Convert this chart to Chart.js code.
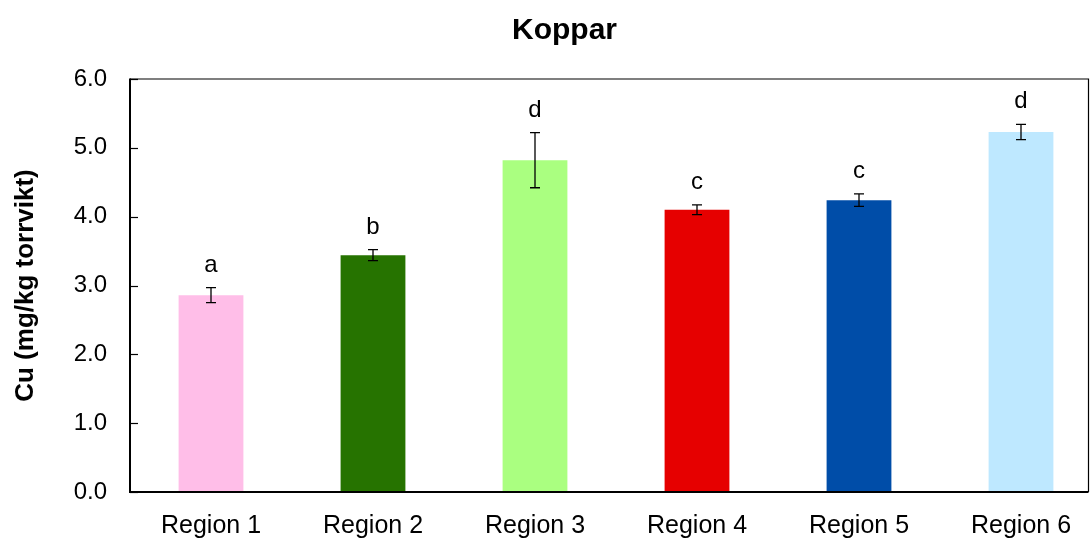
<!DOCTYPE html>
<html>
<head>
<meta charset="utf-8">
<script src="https://cdn.jsdelivr.net/npm/chart.js@4/dist/chart.umd.min.js"></script>
<style>
  html, body { margin: 0; padding: 0; background: #fff; overflow: hidden; }
  #wrap { width: 1091px; height: 538px; overflow: hidden; }
  canvas { display: block; }
</style>
</head>
<body>
<div id="wrap"><canvas id="c" width="1102" height="538"></canvas></div>
<script>
const TITLE = 'Koppar';
const Y_TITLE = 'Cu (mg/kg torrvikt)';
const categories = ['Region 1', 'Region 2', 'Region 3', 'Region 4', 'Region 5', 'Region 6'];
const means = [2.86, 3.44, 4.82, 4.10, 4.24, 5.23];
const errors = [0.11, 0.08, 0.40, 0.07, 0.09, 0.11];
const letters = ['a', 'b', 'd', 'c', 'c', 'd'];
const colors = ['#FFBEE8', '#267300', '#AAFF80', '#E60000', '#004DA8', '#BEE8FF'];
const yTicks = [0, 1, 2, 3, 4, 5, 6];

const FONT = "'Liberation Sans', Arial, Helvetica, sans-serif";
const VISIBLE_RIGHT = 1088.5;

const extras = {
  id: 'extras',
  beforeDraw(chart) {
    const ctx = chart.ctx;
    ctx.save();
    ctx.fillStyle = '#fff';
    ctx.fillRect(0, 0, chart.width, chart.height);
    ctx.restore();
  },
  afterDatasetsDraw(chart) {
    const ctx = chart.ctx;
    const a = chart.chartArea;
    const y = chart.scales.y;
    const meta = chart.getDatasetMeta(0);
    const right = Math.min(a.right, VISIBLE_RIGHT);
    ctx.save();
    // frame
    ctx.strokeStyle = '#000';
    ctx.lineWidth = 1.2;
    ctx.beginPath();
    ctx.moveTo(a.left, a.top);
    ctx.lineTo(right, a.top);
    ctx.lineTo(right, a.bottom);
    ctx.stroke();
    ctx.lineWidth = 2;
    ctx.beginPath();
    ctx.moveTo(a.left, a.top - 0.5);
    ctx.lineTo(a.left, a.bottom);
    ctx.lineTo(right, a.bottom);
    ctx.stroke();
    // inner ticks
    ctx.lineWidth = 1.2;
    yTicks.forEach(v => {
      const py = Math.round(y.getPixelForValue(v)) + 0.5;
      ctx.beginPath();
      ctx.moveTo(a.left, py);
      ctx.lineTo(a.left + 8, py);
      ctx.stroke();
    });
    // error bars and letters
    meta.data.forEach((bar, i) => {
      const x = bar.x;
      const yt = y.getPixelForValue(means[i] + errors[i]);
      const yb = y.getPixelForValue(means[i] - errors[i]);
      ctx.strokeStyle = '#000';
      ctx.lineWidth = 1.3;
      ctx.beginPath();
      ctx.moveTo(x, yt); ctx.lineTo(x, yb);
      ctx.moveTo(x - 5, yt); ctx.lineTo(x + 5, yt);
      ctx.moveTo(x - 5, yb); ctx.lineTo(x + 5, yb);
      ctx.stroke();
      ctx.fillStyle = '#000';
      ctx.font = '24px ' + FONT;
      ctx.textAlign = 'center';
      ctx.textBaseline = 'alphabetic';
      ctx.fillText(letters[i], x, yt - 16);
    });
    // title
    ctx.font = 'bold 30px ' + FONT;
    ctx.textAlign = 'center';
    ctx.textBaseline = 'alphabetic';
    ctx.fillStyle = '#000';
    ctx.fillText(TITLE, 564.5, 38.5);
    ctx.restore();
  }
};

new Chart(document.getElementById('c'), {
  type: 'bar',
  data: {
    labels: categories,
    datasets: [{
      data: means,
      backgroundColor: colors,
      borderWidth: 0,
      barPercentage: 0.40,
      categoryPercentage: 1.0
    }]
  },
  options: {
    responsive: false,
    animation: false,
    devicePixelRatio: 1,
    layout: { padding: { left: 0, right: 0, top: 79, bottom: 0 } },
    plugins: {
      legend: { display: false },
      title: { display: false },
      tooltip: { enabled: false }
    },
    scales: {
      x: {
        type: 'category',
        grid: { display: false, drawTicks: false },
        border: { display: false },
        ticks: { color: '#000', font: { family: FONT, size: 25 }, padding: 19, maxRotation: 0, autoSkip: false },
        afterFit(s) { s.height = 46; }
      },
      y: {
        min: 0, max: 6,
        afterBuildTicks(s) { s.ticks = yTicks.map(v => ({ value: v })); },
        grid: { display: false, drawTicks: false },
        border: { display: false },
        ticks: { color: '#000', font: { family: FONT, size: 24 }, padding: 23, callback: v => Number(v).toFixed(1) },
        title: { display: true, text: Y_TITLE, color: '#000', font: { family: FONT, size: 26, weight: 'bold' }, padding: { top: 10, bottom: 0 } },
        afterFit(s) { s.width = 130; }
      }
    }
  },
  plugins: [extras]
});
</script>
</body>
</html>
